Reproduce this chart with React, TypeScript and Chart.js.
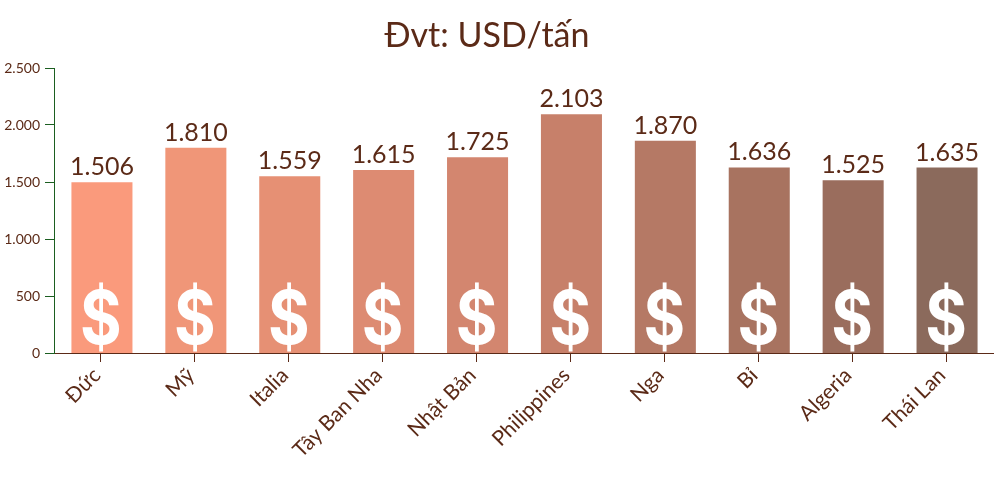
import React, { useEffect, useRef } from "react";
import { Chart, registerables } from "chart.js";

Chart.register(...registerables);

const categories = ["Đức", "Mỹ", "Italia", "Tây Ban Nha", "Nhật Bản", "Philippines", "Nga", "Bỉ", "Algeria", "Thái Lan"];
const values = [1506, 1810, 1559, 1615, 1725, 2103, 1870, 1636, 1525, 1635];
const barColors = ["#FA9A7C", "#F09678", "#E69074", "#DD8B72", "#D3866F", "#C7806A", "#B57965", "#A87360", "#9A6D5D", "#8B6A5C"];
const titleText = "Đvt: USD/tấn";
const iconGlyph = "$";

const FONT = "Lato, 'Noto Sans', sans-serif";
const BROWN = "#5B2A17";
const GREEN = "#1B5E20";
const BAR_DX = 1;
const BAR_DY = 1;
const fmt = (v: number) => v.toLocaleString("de-DE");

const overlay = {
  id: "overlay",
  beforeDatasetsDraw(chart: any) {
    const { ctx, chartArea } = chart;
    ctx.save();
    ctx.beginPath();
    ctx.rect(0, 0, chart.width, chartArea.bottom);
    ctx.clip();
    ctx.translate(BAR_DX, BAR_DY);
  },
  afterDatasetsDraw(chart: any) {
    const { ctx, chartArea } = chart;
    ctx.restore();
    const meta = chart.getDatasetMeta(0);
    ctx.save();
    ctx.fillStyle = BROWN;
    ctx.textAlign = "center";
    ctx.textBaseline = "alphabetic";
    ctx.font = `400 25px ${FONT}`;
    meta.data.forEach((bar: any, i: number) => {
      ctx.fillText(fmt(values[i]), bar.x + 1, bar.y - 6);
    });
    ctx.font = `400 34px ${FONT}`;
    ctx.fillText(titleText, 487, 47);
    ctx.beginPath();
    ctx.rect(chartArea.left, chartArea.top, chartArea.right - chartArea.left, chartArea.bottom - chartArea.top);
    ctx.clip();
    ctx.fillStyle = "#FFFFFF";
    ctx.font = `700 74px Inter, ${FONT}`;
    meta.data.forEach((bar: any) => {
      ctx.save();
      ctx.translate(bar.x + BAR_DX - 1, chartArea.bottom - 9);
      ctx.scale(0.86, 1);
      ctx.fillText(iconGlyph, 0, 0);
      ctx.restore();
    });
    ctx.restore();
  },
};

export default function App() {
  const ref = useRef<HTMLCanvasElement>(null);
  useEffect(() => {
    const chart = new Chart(ref.current!, {
      type: "bar",
      data: {
        labels: categories,
        datasets: [{ data: values, backgroundColor: barColors, barPercentage: 0.65, categoryPercentage: 1 }],
      },
      options: {
        animation: false,
        responsive: false,
        devicePixelRatio: 1,
        layout: { autoPadding: false, padding: { top: 68, left: 0, right: 1, bottom: 0 } },
        plugins: { legend: { display: false }, tooltip: { enabled: false }, title: { display: false } },
        scales: {
          x: {
            z: 1,
            afterFit: (s: any) => { s.height = 140; },
            border: { color: BROWN, width: 1 },
            grid: { offset: false, drawOnChartArea: false, drawTicks: true, tickLength: 9, tickColor: BROWN },
            ticks: { color: BROWN, font: { family: FONT, size: 21 }, minRotation: 45, maxRotation: 45, autoSkip: false, padding: 1, labelOffset: -4 },
          },
          y: {
            min: 0,
            max: 2500,
            afterFit: (s: any) => { s.width = 54; },
            border: { color: GREEN, width: 1 },
            grid: { drawOnChartArea: false, drawTicks: true, tickLength: 9, tickColor: GREEN },
            ticks: { color: BROWN, stepSize: 500, font: { family: FONT, size: 14 }, padding: 5, callback: (v: any) => fmt(Number(v)) },
          },
        },
      },
      plugins: [overlay],
    } as any);
    return () => chart.destroy();
  }, []);
  return (
    <div style={{ position: "fixed", left: 0, top: 0, width: 994, height: 493, background: "#fff" }}>
      <canvas ref={ref} width={994} height={493} style={{ display: "block" }} />
    </div>
  );
}
